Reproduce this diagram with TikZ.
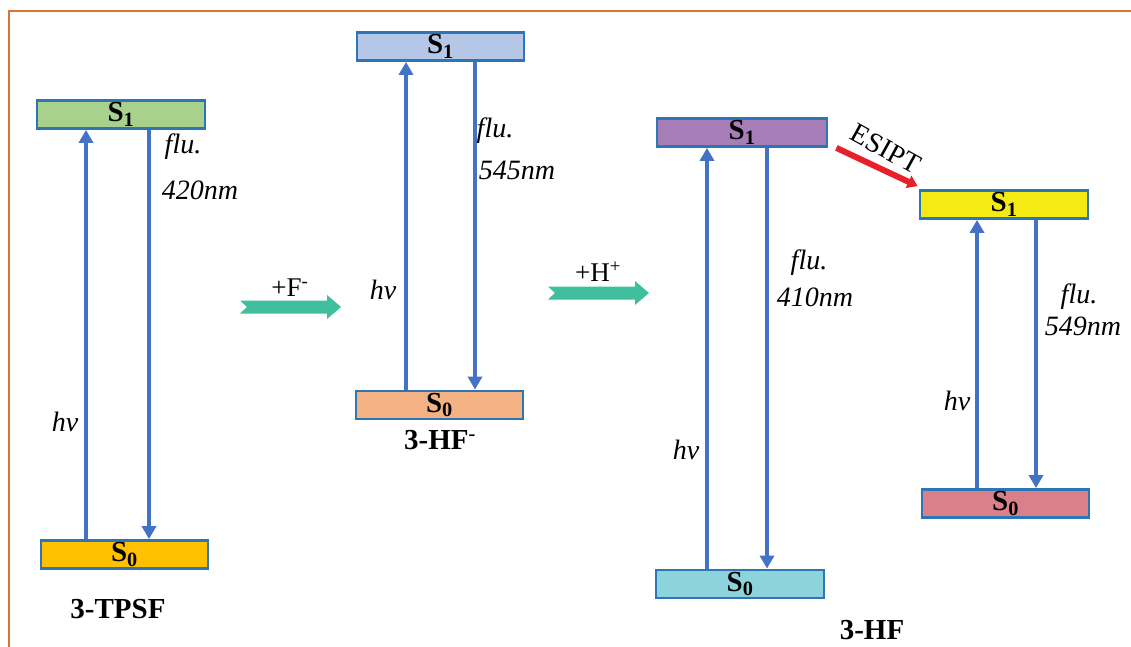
\documentclass[tikz,border=0pt]{standalone}
\usepackage{fontspec}
\setmainfont{Liberation Serif}
\usetikzlibrary{arrows.meta}
\definecolor{boxline}{HTML}{2E75B6}
\definecolor{arrblue}{HTML}{4472C4}
\definecolor{framec}{HTML}{D9733A}
\definecolor{tealc}{HTML}{3FBF9E}
\definecolor{esred}{HTML}{E8202A}
\definecolor{cgreen}{HTML}{A9D18E}
\definecolor{corange}{HTML}{FFC000}
\definecolor{cblue}{HTML}{B4C7E7}
\definecolor{cpeach}{HTML}{F4B183}
\definecolor{cpurple}{HTML}{A77DB8}
\definecolor{ccyan}{HTML}{8DD3DB}
\definecolor{cyellow}{HTML}{F5EB14}
\definecolor{cpink}{HTML}{D9808A}
\tikzset{
  level/.style={draw=boxline, line width=2.8pt, minimum height=28pt, inner sep=0pt, font=\fontsize{29}{30}\selectfont\bfseries},
  blarrow/.style={draw=arrblue, line width=4.2pt, -{Triangle[width=14pt,length=13pt]}},
  lbl/.style={font=\fontsize{28}{30}\selectfont\itshape, inner sep=0pt},
  rlbl/.style={font=\fontsize{27}{29}\selectfont, inner sep=0pt},
  blbl/.style={font=\fontsize{29}{30}\selectfont\bfseries, inner sep=0pt},
  tealarrow/.style={fill=tealc},
}
\begin{document}
\begin{tikzpicture}[x=1pt,y=-1pt]
\useasboundingbox (0,0) rectangle (1131,647);
\draw[framec, line width=2.4pt] (9,647) -- (9,11) -- (1131,11);
% levels
\node[level, fill=cgreen, minimum width=168pt] (tS1) at (121,114.5) {S\textsubscript{1}};
\node[level, fill=corange, minimum width=167pt] (tS0) at (124.5,554.5) {S\textsubscript{0}};
\node[level, fill=cblue, minimum width=167pt] (fS1) at (440.5,46.5) {S\textsubscript{1}};
\node[level, fill=cpeach, minimum width=167pt] (fS0) at (439.5,405) {S\textsubscript{0}};
\node[level, fill=cpurple, minimum width=170pt] (hS1) at (742,132.5) {S\textsubscript{1}};
\node[level, fill=ccyan, minimum width=168pt] (hS0) at (740,584) {S\textsubscript{0}};
\node[level, fill=cyellow, minimum width=168pt] (eS1) at (1004,204.5) {S\textsubscript{1}};
\node[level, fill=cpink, minimum width=167pt] (eS0) at (1005.5,503.5) {S\textsubscript{0}};
% transitions
\draw[blarrow] ([xshift=-38.5pt]tS0.north) -- ([xshift=-35pt]tS1.south);
\draw[blarrow] ([xshift=28pt]tS1.south) -- ([xshift=24.5pt]tS0.north);
\draw[blarrow] ([xshift=-33.5pt]fS0.north) -- ([xshift=-34.5pt]fS1.south);
\draw[blarrow] ([xshift=34.5pt]fS1.south) -- ([xshift=35.5pt]fS0.north);
\draw[blarrow] ([xshift=-33pt]hS0.north) -- ([xshift=-35pt]hS1.south);
\draw[blarrow] ([xshift=25pt]hS1.south) -- ([xshift=27pt]hS0.north);
\draw[blarrow] ([xshift=-28.5pt]eS0.north) -- ([xshift=-27pt]eS1.south);
\draw[blarrow] ([xshift=32pt]eS1.south) -- ([xshift=30.5pt]eS0.north);
% ESIPT
\draw[esred, line width=6pt, -{Triangle[width=13pt,length=10pt]}] ([xshift=8pt]hS1.south east) -- ([xshift=-1pt,yshift=3pt]eS1.north west);
\node[rlbl, font=\fontsize{28}{30}\selectfont, rotate=-29] (esl) at (886,149) {ESIPT};
% labels
\node[lbl] (hv1) at (65,422) {hv};
\node[lbl] (hv2) at (383,290) {hv};
\node[lbl] (hv3) at (686,450) {hv};
\node[lbl] (hv4) at (957,401) {hv};
\node[lbl] (fl1) at (183,147) {flu.};
\node[lbl] (nm1) at (200,190) {420nm};
\node[lbl] (fl2) at (495,131) {flu.};
\node[lbl] (nm2) at (517,170) {545nm};
\node[lbl] (fl3) at (809,263) {flu.};
\node[lbl] (nm3) at (815,297) {410nm};
\node[lbl] (fl4) at (1079,297) {flu.};
\node[lbl] (nm4) at (1083,326) {549nm};
% reagent arrows
\fill[tealarrow, shift={(240,307)}] (0,-6.5) -- (87,-6.5) -- (87,-12) -- (101,0) -- (87,12) -- (87,6.5) -- (0,6.5) -- (7,0) -- cycle;
\fill[tealarrow, shift={(548,293)}] (0,-6.5) -- (87,-6.5) -- (87,-12) -- (101,0) -- (87,12) -- (87,6.5) -- (0,6.5) -- (7,0) -- cycle;
\node[rlbl] (rf) at (290,288) {+F\textsuperscript{-}};
\node[rlbl] (rh) at (598,272) {+H\textsuperscript{+}};
% compound names
\node[blbl] (n1) at (118,609) {3-TPSF};
\node[blbl] (n2) at (440,440) {3-HF\textsuperscript{-}};
\node[blbl] (n3) at (872,630) {3-HF};
\end{tikzpicture}
\end{document}
